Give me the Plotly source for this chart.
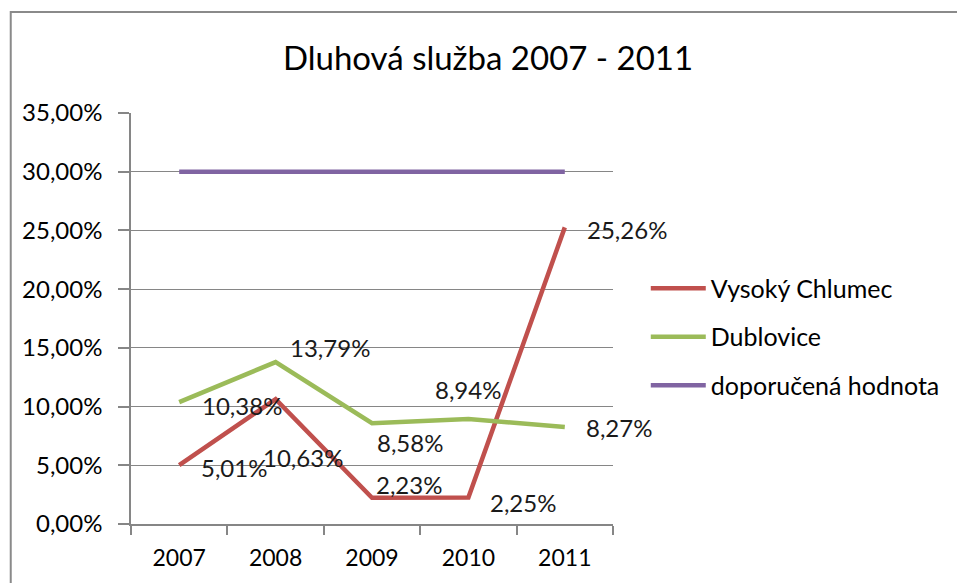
import plotly.graph_objects as go

years = ["2007", "2008", "2009", "2010", "2011"]
vysoky = [5.01, 10.63, 2.23, 2.25, 25.26]
dublovice = [10.38, 13.79, 8.58, 8.94, 8.27]
doporucena = [30, 30, 30, 30, 30]
y_ticks = [0, 5, 10, 15, 20, 25, 30, 35]

# label pixel offsets (style only)
vys_off = [(55, 2), (27, 58), (37, -13), (55, 5), (62, 2)]
dub_off = [(63, 3), (54, -15), (38, 19), (0, -30), (54, 1)]

FONT = "Lato"


def fmt(v):
    return f"{v:.2f}".replace(".", ",") + "%"


fig = go.Figure()
fig.add_trace(go.Scatter(x=years, y=vysoky, mode="lines", name="Vysoký Chlumec",
                         line=dict(color="#C0504D", width=4.5), legendgroup="a"))
fig.add_trace(go.Scatter(x=years, y=dublovice, mode="lines", name="Dublovice",
                         line=dict(color="#9BBB59", width=4.5), legendgroup="b"))
fig.add_trace(go.Scatter(x=years, y=doporucena, mode="lines", name="doporučená hodnota",
                         line=dict(color="#8064A2", width=4.5), legendgroup="c"))

# category serial number is used as annotation x on a category axis
for vals, offs in ((vysoky, vys_off), (dublovice, dub_off)):
    for i, (v, (dx, dy)) in enumerate(zip(vals, offs)):
        fig.add_annotation(x=i, y=v, xref="x", yref="y", text=fmt(v), showarrow=False,
                           xshift=dx, yshift=-dy,
                           font=dict(family=FONT, size=24, color="#1a1a1a"))

fig.add_shape(type="rect", xref="paper", yref="paper", x0=-0.2495, y0=1.2457,
              x1=1.8, y1=-0.3, line=dict(color="#8a8a8a", width=2))

fig.update_layout(
    width=957, height=583,
    margin=dict(l=131, r=341, t=113, b=59),
    paper_bgcolor="white", plot_bgcolor="white",
    title=dict(text="Dluhová služba 2007 - 2011", x=0.51, xref="container",
               xanchor="center", y=1 - 58 / 583, yanchor="middle",
               font=dict(family=FONT, size=33, color="#000")),
    legend=dict(x=1.068, xanchor="left", y=0.455, yanchor="middle",
                font=dict(family=FONT, size=25, color="#000"),
                itemwidth=55, tracegroupgap=13, traceorder="grouped",
                bgcolor="rgba(0,0,0,0)"),
    showlegend=True,
)
fig.update_xaxes(type="category", categoryorder="array", categoryarray=years,
                 range=[-0.5, len(years) - 0.5],
                 showline=True, linecolor="#868686", linewidth=1.5,
                 ticks="outside", tickson="boundaries", ticklen=9, tickcolor="#868686",
                 tickwidth=1.5, showgrid=False, ticklabelstandoff=13,
                 tickfont=dict(family=FONT, size=23, color="#000"))
fig.update_yaxes(range=[0, 35], tickmode="array", tickvals=y_ticks,
                 ticktext=[fmt(t) for t in y_ticks],
                 showline=True, linecolor="#868686", linewidth=1.5,
                 ticks="outside", ticklen=11, tickcolor="#868686", tickwidth=1.5,
                 showgrid=True, gridcolor="#868686", gridwidth=1, zeroline=False,
                 ticklabelstandoff=11,
                 tickfont=dict(family=FONT, size=24, color="#000"))

fig.write_html("out.html", config={"displayModeBar": False},
               post_script="document.body.style.margin='0';")
